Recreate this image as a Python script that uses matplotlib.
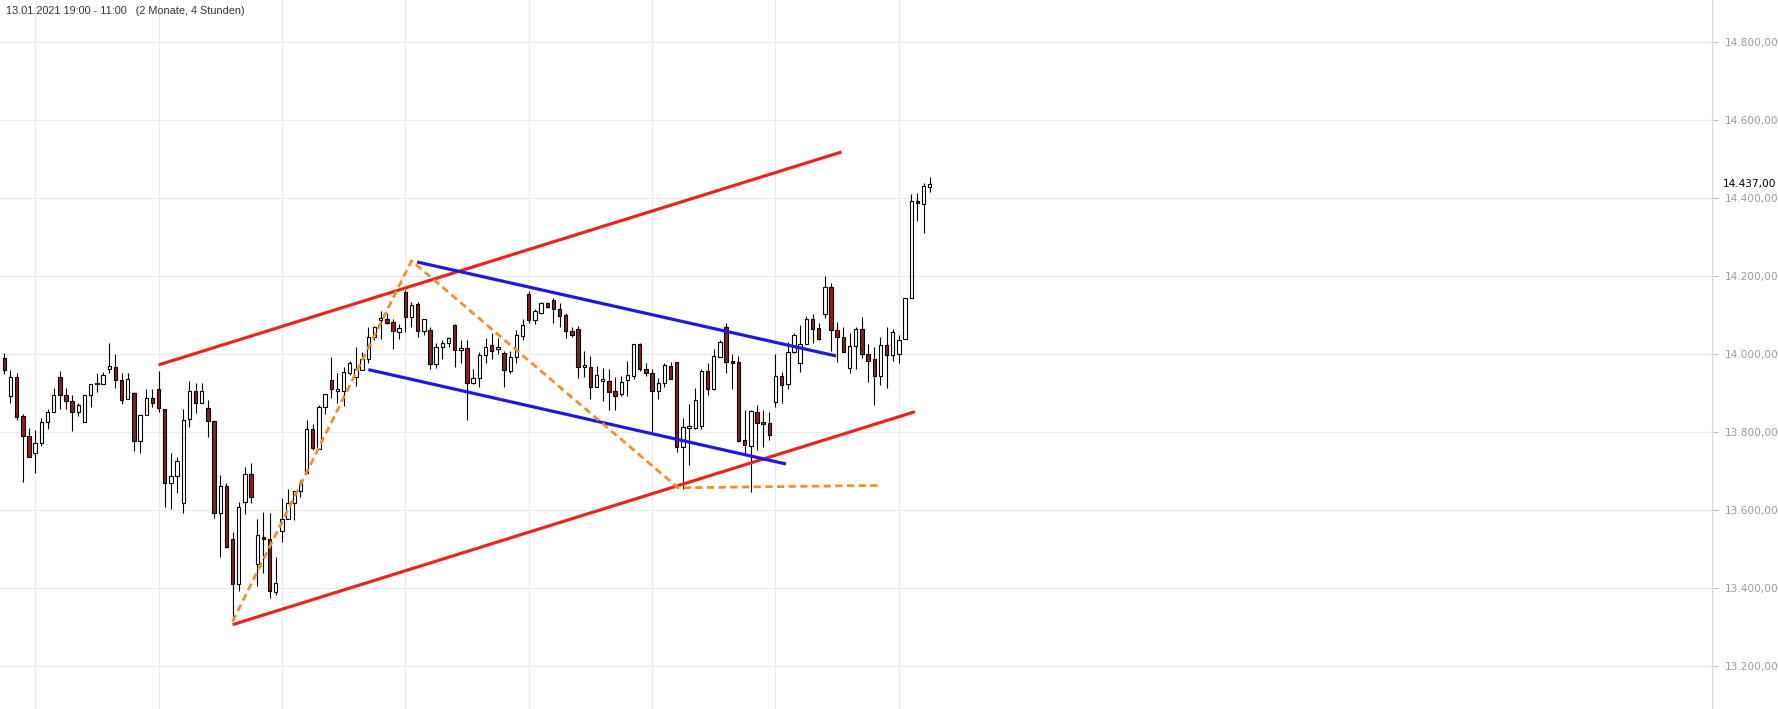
import numpy as np
import matplotlib
matplotlib.use("Agg")
import matplotlib.pyplot as plt
from matplotlib.ticker import FuncFormatter

plt.rcParams['font.family'] = ['Liberation Sans', 'DejaVu Sans']

# ---------- data (4h candles) ----------
opens = [13989, 13893, 13940, 13841, 13789, 13747, 13773, 13825, 13851, 13940,
         13894, 13879, 13851, 13825, 13894, 13923, 13922, 13961, 13966, 13933,
         13884, 13899, 13778, 13843, 13886, 13909, 13858, 13668, 13687, 13617,
         13833, 13904, 13874, 13861, 13828, 13593, 13662, 13526, 13409, 13621,
         13691, 13461, 13532, 13525, 13389, 13547, 13576, 13617, 13648, 13696,
         13807, 13756, 13863, 13933, 13906, 13906, 13952, 13942, 13959, 13986,
         14044, 14087, 14089, 14082, 14056, 14160, 14096, 14127, 14060, 14062,
         13974, 14019, 14029, 14074, 14009, 14015, 13925, 13938, 13997, 14022,
         14012, 14002, 13957, 13992, 14046, 14153, 14087, 14106, 14130, 14138,
         14115, 14100, 14059, 14063, 13966, 13967, 13916, 13930, 13931, 13904,
         13897, 13933, 13944, 14026, 13961, 13951, 13904, 13925, 13969, 13979,
         13761, 13809, 13811, 13815, 13956, 13909, 13993, 14070, 13982, 13979,
         13779, 13764, 13851, 13825, 13824, 13878, 13944, 13922, 14005, 13976,
         14025, 14089, 14066, 14102, 14171, 14062, 14044, 13963, 14021, 14063,
         13999, 13986, 13944, 14022, 13997, 13999, 14038, 14143, 14392, 14384,
         14429]
highs = [14002, 13959, 13951, 13846, 13810, 13805, 13836, 13858, 13912, 13956,
         13912, 13895, 13874, 13894, 13922, 13951, 13954, 14027, 13999, 13951,
         13951, 13902, 13843, 13909, 13909, 13956, 13859, 13747, 13737, 13858,
         13931, 13926, 13926, 13882, 13828, 13690, 13668, 13544, 13621, 13709,
         13720, 13576, 13596, 13592, 13479, 13630, 13653, 13648, 13677, 13831,
         13821, 13869, 13897, 13993, 13951, 13967, 13983, 14017, 14004, 14068,
         14072, 14111, 14106, 14091, 14077, 14164, 14134, 14134, 14089, 14068,
         14029, 14036, 14044, 14076, 14036, 14036, 13961, 14006, 14040, 14053,
         14040, 14008, 14008, 14062, 14089, 14162, 14115, 14134, 14133, 14143,
         14132, 14104, 14068, 14072, 14008, 13995, 13969, 13963, 13962, 13942,
         13944, 13983, 14026, 14029, 13978, 13961, 13938, 13978, 13980, 13979,
         13835, 13872, 13912, 13961, 13976, 14012, 14036, 14079, 13999, 13995,
         13856, 13856, 13869, 13856, 13852, 14000, 13955, 14030, 14055, 14074,
         14098, 14102, 14079, 14200, 14183, 14081, 14070, 14053, 14068, 14096,
         14025, 14019, 14044, 14068, 14065, 14049, 14143, 14410, 14412, 14439,
         14453]
lows = [13948, 13875, 13831, 13673, 13735, 13696, 13764, 13808, 13851, 13858,
        13859, 13803, 13842, 13825, 13865, 13903, 13922, 13951, 13912, 13871,
        13884, 13752, 13745, 13843, 13863, 13852, 13608, 13602, 13644, 13593,
        13814, 13849, 13874, 13788, 13579, 13479, 13503, 13315, 13391, 13590,
        13617, 13406, 13438, 13374, 13382, 13519, 13576, 13574, 13634, 13696,
        13754, 13756, 13846, 13886, 13874, 13867, 13945, 13919, 13959, 13976,
        14036, 14038, 14077, 14012, 14039, 14056, 14068, 14043, 14048, 13961,
        13963, 13987, 14017, 13966, 13978, 13830, 13923, 13916, 13978, 13988,
        14000, 13916, 13951, 13978, 14036, 14080, 14076, 14102, 14119, 14080,
        14070, 14040, 14044, 13938, 13940, 13885, 13916, 13880, 13856, 13856,
        13893, 13893, 13937, 13956, 13944, 13800, 13884, 13916, 13937, 13749,
        13653, 13716, 13807, 13807, 13894, 13908, 13993, 13951, 13911, 13775,
        13742, 13647, 13754, 13762, 13779, 13865, 13875, 13911, 14002, 13955,
        14025, 14027, 14036, 14093, 14008, 13980, 14006, 13951, 13961, 13989,
        13927, 13869, 13921, 13912, 13982, 13976, 14038, 14143, 14342, 14309,
        14415]
closes = [13959, 13940, 13839, 13791, 13735, 13771, 13825, 13851, 13894, 13894,
          13879, 13851, 13868, 13894, 13922, 13925, 13945, 13968, 13933, 13883,
          13935, 13778, 13843, 13886, 13874, 13861, 13668, 13687, 13726, 13830,
          13904, 13874, 13904, 13827, 13593, 13662, 13506, 13409, 13608, 13691,
          13633, 13535, 13525, 13392, 13412, 13576, 13619, 13648, 13668, 13807,
          13760, 13863, 13897, 13909, 13909, 13953, 13976, 13961, 13986, 14044,
          14068, 14092, 14080, 14058, 14067, 14096, 14126, 14060, 14089, 13974,
          14019, 14029, 14040, 14010, 14015, 13925, 13938, 13997, 14019, 14008,
          14017, 13959, 13992, 14048, 14074, 14087, 14109, 14130, 14120, 14115,
          14098, 14060, 14049, 13967, 13972, 13916, 13945, 13936, 13903, 13893,
          13927, 13945, 14026, 13961, 13952, 13904, 13925, 13972, 13937, 13761,
          13814, 13815, 13882, 13956, 13909, 13995, 14031, 13979, 13978, 13778,
          13766, 13854, 13824, 13820, 13792, 13944, 13920, 14006, 14049, 14026,
          14089, 14063, 14039, 14171, 14062, 14044, 14006, 14020, 14063, 13999,
          13981, 13944, 14022, 13997, 14056, 14035, 14143, 14392, 14386, 14431,
          14437]

# drawn trend lines: (candle index, price)
red_upper_x, red_upper_y = [25.0, 135.7], [13972, 14518]
red_lower_x, red_lower_y = [37.0, 147.6], [13306, 13852]
blue_upper_x, blue_upper_y = [66.9, 134.8], [14236, 13995]
blue_lower_x, blue_lower_y = [59.0, 126.7], [13960, 13718]
orange_x, orange_y = [37.0, 66.0, 109.2, 142.1], [13314, 14239, 13657, 13663]

y_ticks = [13200, 13400, 13600, 13800, 14000, 14200, 14400, 14600, 14800]
week_lines = [5, 25, 45, 65, 85, 105, 125, 145]
last_price = 14437
title = "13.01.2021 19:00 - 11:00   (2 Monate, 4 Stunden)"


def de_fmt(v, pos=None):
    # german number format: 14.800,00
    return f"{v:,.2f}".replace(',', 'X').replace('.', ',').replace('X', '.')


W, H = 1778, 709
fig = plt.figure(figsize=(W / 100, H / 100), dpi=100)
ax = fig.add_axes([0, 0, 1712 / W, 1])

o = np.array(opens)
h = np.array(highs)
l = np.array(lows)
c = np.array(closes)
x = np.arange(len(o))

# wicks then bodies
ax.vlines(x, l, h, color='black', linewidth=0.8, zorder=3)
up = c >= o
body_bottom = np.minimum(o, c)
body_height = np.maximum(np.abs(c - o), 1.5)
ax.bar(x[up], body_height[up], bottom=body_bottom[up], width=0.55,
       color='white', edgecolor='black', linewidth=0.8, zorder=4)
ax.bar(x[~up], body_height[~up], bottom=body_bottom[~up], width=0.55,
       color='#8e1f1f', edgecolor='black', linewidth=0.8, zorder=4)

# trend lines
ax.plot(red_upper_x, red_upper_y, color='#e8261c', linewidth=2.3, zorder=5, solid_capstyle='butt')
ax.plot(red_lower_x, red_lower_y, color='#e8261c', linewidth=2.3, zorder=5, solid_capstyle='butt')
ax.plot(blue_upper_x, blue_upper_y, color='#2018e0', linewidth=2.3, zorder=5, solid_capstyle='butt')
ax.plot(blue_lower_x, blue_lower_y, color='#2018e0', linewidth=2.3, zorder=5, solid_capstyle='butt')
ax.plot(orange_x, orange_y, color='#ef8f2a', linewidth=2.0, linestyle=(0, (2.6, 1.6)), zorder=5)

# axes / grid
ax.set_xlim(-0.7, 276.8)
ax.set_ylim(13089.7, 14907.7)
ax.set_xticks(week_lines)
ax.set_yticks(y_ticks)
ax.grid(True, color='#ebebeb', linewidth=0.8, zorder=0)
ax.set_axisbelow(True)
ax.tick_params(axis='x', length=0, labelbottom=False)
ax.yaxis.tick_right()
ax.tick_params(axis='y', length=4, width=0.7, color='#bbbbbb', pad=5,
               labelsize=7.6, labelcolor='#9a9a9a')
ax.yaxis.set_major_formatter(FuncFormatter(de_fmt))
for lab in ax.get_yticklabels():
    lab.set_family('DejaVu Sans')
for side in ['top', 'left', 'bottom']:
    ax.spines[side].set_visible(False)
ax.spines['right'].set_color('#d4d4d4')
ax.spines['right'].set_linewidth(0.8)

# current price label on top of the axis labels
ax.text(1.0 + 11 / 1712, last_price, de_fmt(last_price), transform=ax.get_yaxis_transform(),
        ha='left', va='center', fontsize=7.6, family='DejaVu Sans', color='black', clip_on=False,
        bbox=dict(boxstyle='square,pad=0.45', facecolor='white', edgecolor='none'),
        zorder=10)

fig.text(6 / W, 1 - 11 / H, title, fontsize=7.8, color='#333333', va='center', ha='left')

fig.savefig('out.png', dpi=100)
